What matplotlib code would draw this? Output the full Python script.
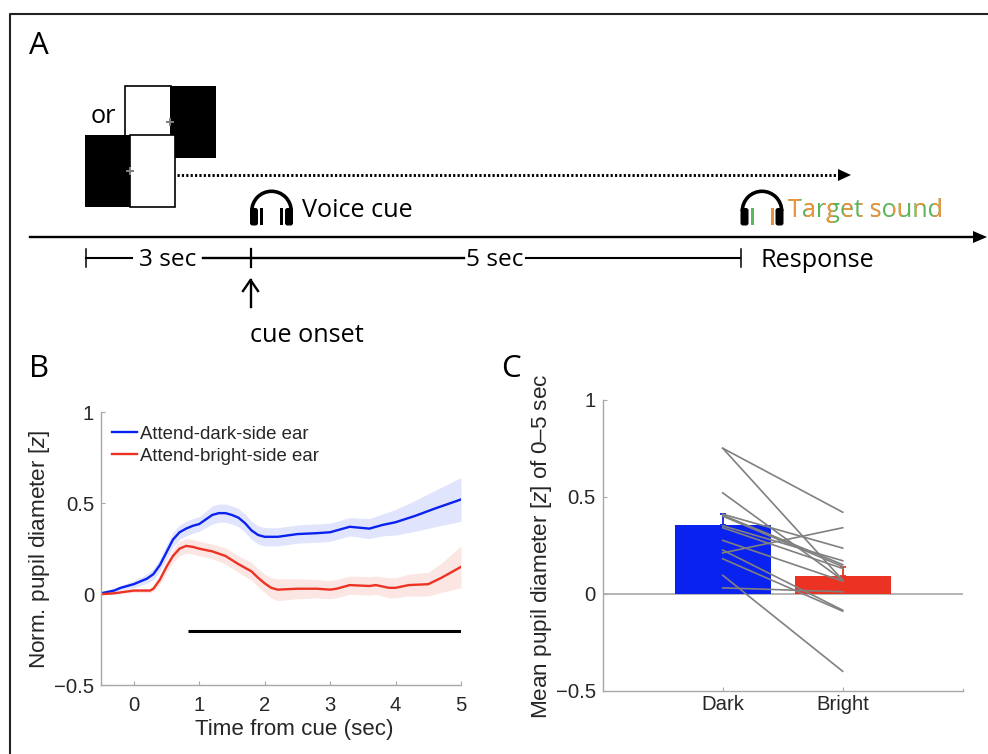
import numpy as np
import matplotlib
matplotlib.use("Agg")
import matplotlib.pyplot as plt
from matplotlib.patches import Rectangle, Wedge, FancyBboxPatch, Polygon
from matplotlib.transforms import Bbox

W, H = 988, 754

# Panel B data
t_blue = [-0.5,-0.3,-0.2,0,0.2,0.3,0.4,0.5,0.6,0.7,0.8,0.9,1.0,1.1,1.2,1.3,1.4,1.5,1.6,1.7,1.8,1.9,2.0,2.2,2.5,2.8,3.0,3.2,3.3,3.6,3.8,4.0,4.3,4.6,5.0]
y_blue = [0.005,0.02,0.035,0.055,0.085,0.11,0.16,0.23,0.30,0.34,0.36,0.375,0.385,0.41,0.435,0.445,0.445,0.435,0.42,0.39,0.35,0.325,0.315,0.315,0.33,0.335,0.34,0.36,0.37,0.36,0.38,0.395,0.43,0.47,0.52]
e_blue = [0.003,0.008,0.012,0.02,0.025,0.03,0.035,0.04,0.04,0.04,0.04,0.04,0.04,0.045,0.05,0.05,0.05,0.05,0.05,0.05,0.05,0.05,0.05,0.05,0.05,0.05,0.05,0.05,0.05,0.055,0.06,0.07,0.085,0.1,0.12]
t_red = [-0.5,-0.3,0,0.25,0.3,0.4,0.5,0.6,0.7,0.8,0.9,1.0,1.2,1.4,1.6,1.8,1.9,2.0,2.1,2.2,2.5,2.8,3.0,3.1,3.3,3.6,3.7,3.9,4.0,4.2,4.5,4.7,5.0]
y_red = [0.0,0.005,0.02,0.02,0.03,0.08,0.15,0.21,0.25,0.265,0.26,0.25,0.235,0.21,0.165,0.125,0.09,0.06,0.035,0.025,0.03,0.03,0.025,0.03,0.05,0.045,0.05,0.035,0.035,0.05,0.055,0.09,0.15]
e_red = [0.002,0.004,0.01,0.012,0.015,0.025,0.03,0.035,0.04,0.04,0.04,0.04,0.04,0.045,0.045,0.05,0.05,0.05,0.055,0.06,0.055,0.05,0.05,0.05,0.05,0.05,0.05,0.055,0.055,0.06,0.065,0.08,0.115]
sig_start, sig_end, sig_y = 0.825, 5.0, -0.2
b_xticks = [0,1,2,3,4,5]
yticks = [-0.5,0,0.5,1]
ytick_labels = ["\u22120.5","0","0.5","1"]

# Panel C data
conditions = ["Dark","Bright"]
bar_means = [0.355,0.09]
bar_errs = [0.055,0.05]
dark_subj = [0.75,0.75,0.52,0.41,0.405,0.40,0.35,0.34,0.275,0.225,0.21,0.18,0.095,0.03]
bright_subj = [0.42,0.07,0.07,0.235,0.15,0.14,0.17,0.13,0.065,-0.085,0.34,-0.09,-0.40,0.01]

BLUE = "#0a22f0"; RED = "#ec3323"
AX = "#a8a8a8"; TXT = "#262626"
SANS = "Liberation Sans"; SCH = "Open Sans"
plt.rcParams["mathtext.fontset"] = "custom"
plt.rcParams["mathtext.rm"] = SANS
plt.rcParams["mathtext.it"] = SANS + ":italic"

fig = plt.figure(figsize=(W/100, H/100), dpi=100, facecolor="white")

def axpx(l, t, r, b):
    return fig.add_axes([l/W, 1-b/H, (r-l)/W, (b-t)/H])

# Schematic layer in pixel coordinates
sc = fig.add_axes([0,0,1,1]); sc.set_xlim(0,W); sc.set_ylim(H,0); sc.axis("off")
sc.plot([10,10,W+2],[H+2,14,14],color="#222222",lw=1.5,solid_capstyle="butt",clip_on=False)

def label(x,y,s,size=18.2,color="black",**k):
    return sc.text(x,y,s,fontsize=size,family=SCH,color=color,va="baseline",**k)

label(29,54,"A",size=22.5); label(29,377,"B",size=22.5); label(501,377,"C",size=22.5)
label(91,123,"or")

# stimuli
sc.add_patch(Rectangle((125,86),45.5,72,fc="white",ec="black",lw=1.2))
sc.add_patch(Rectangle((170,85.5),45.5,72.5,fc="black",ec="black",lw=0))
sc.add_patch(Rectangle((85,134.5),45,72.5,fc="black",ec="black",lw=0))
sc.add_patch(Rectangle((130,134.5),45,72,fc="white",ec="black",lw=1.2))
sc.plot([170,130],[121.5,170.5],ls="none",marker="P",ms=6,color="#808080",mew=0)

# dotted arrow
sc.plot([177,838],[175,175],color="black",lw=2.1,ls=(0,(0.75,0.75)))
sc.add_patch(Polygon([[838,169],[851,175],[838,181]],fc="black",ec="none"))

# main timeline
sc.plot([30,972],[237,237],color="black",lw=1.7)
sc.add_patch(Polygon([[973,231],[987,237],[973,243]],fc="black",ec="none"))

# intervals
sc.plot([85.5,85.5],[249,267],color="black",lw=1.1)
sc.plot([85.5,132],[258,258],color="black",lw=1.5)
sc.plot([203,464],[258,258],color="black",lw=1.7)
sc.plot([526,740],[258,258],color="black",lw=1.5)
sc.plot([250.5,250.5],[249,267],color="black",lw=1.6)
sc.plot([740.5,740.5],[249,267],color="black",lw=1.1)
label(139,266,"3 sec",size=17.6); label(466,266,"5 sec",size=17.6); label(760,267,"Response")
# cue arrow
sc.plot([250.5,250.5],[280,307],color="black",lw=1.7)
sc.plot([243,250.5,258],[291,280,291],color="black",lw=1.7)
label(250,342,"cue onset")
label(302,216.7,"Voice cue")

def headphones(cx, c1="black", c2="black"):
    sc.add_patch(Wedge((cx,211),21.5,180,360,width=3.6,fc="black",ec="none"))
    sc.add_patch(FancyBboxPatch((cx-21.5,208),8,17.5,boxstyle="round,pad=0,rounding_size=2.5",fc="black",ec="none"))
    sc.add_patch(FancyBboxPatch((cx+13.5,208),8,17.5,boxstyle="round,pad=0,rounding_size=2.5",fc="black",ec="none"))
    sc.add_patch(Rectangle((cx-11.5,207.5),3,17.5,fc=c1,ec="none"))
    sc.add_patch(Rectangle((cx+8.5,207.5),3,17.5,fc=c2,ec="none"))
headphones(271.5, "black","black")
headphones(762, "#5cb85c","#ee8f3a")

# Multi-coloured "Target sound": green text with orange vertical stripes
label(788,216.7,"Target sound",color="#5cb35a")
stripes = [(788,799),(806,814),(824,833),(844,851),(859,863),(871,880),(893,902),(915,923),(933,942)]
for a,b in stripes:
    s = label(788,216.7,"Target sound",color="#ee933f")
    s.set_clip_box(Bbox([[a,H-230],[b,H-190]]))
    s.set_clip_on(True)

# Panel B
axb = axpx(101,412,461,685.3)
axb.patch.set_alpha(0)
axb.set_xlim(-0.5,5); axb.set_ylim(-0.5,1)
for t,y,e,c,lab in [(t_blue,y_blue,e_blue,BLUE,"Attend-dark-side ear"),(t_red,y_red,e_red,RED,"Attend-bright-side ear")]:
    t,y,e = map(np.array,(t,y,e))
    axb.fill_between(t,y-e,y+e,color=c,alpha=0.12,lw=0)
    axb.plot(t,y,color=c,lw=1.7,label=lab)
axb.plot([sig_start,sig_end],[sig_y,sig_y],color="black",lw=2.2,solid_capstyle="butt")
axb.set_xticks(b_xticks)
axb.set_yticks(yticks); axb.set_yticklabels(ytick_labels)
axb.text((294-101)/360,(685.3-730)/273.3,"Time from cue (sec)",transform=axb.transAxes,
         va="center",ha="center",fontsize=16.1,family=SANS,color=TXT)
axb.text(-0.172,0.499,"Norm. pupil diameter [$\\mathit{z}$]",transform=axb.transAxes,rotation=90,
         va="center",ha="center",fontsize=16.2,family=SANS,color=TXT)
leg = axb.legend(loc="upper left",bbox_to_anchor=(0.03,0.95),frameon=False,prop={"family":SANS,"size":13.4},
                 handlelength=1.34,handletextpad=0.16,labelspacing=0.28,borderpad=0,borderaxespad=0,labelcolor=TXT)

# Panel C
axc = axpx(602.7,399.7,962.7,690.7)
axc.patch.set_alpha(0)
axc.set_xlim(0,3); axc.set_ylim(-0.5,1)
axc.bar([1,2],bar_means,width=0.8,color=[BLUE,RED],zorder=2)
axc.axhline(0,color=AX,lw=1.2,zorder=1)
for x,m,e,c in zip([1,2],bar_means,bar_errs,[BLUE,RED]):
    axc.errorbar([x],[m],yerr=[[0],[e]],color=c,capsize=2.5,lw=1.3,capthick=1.3,zorder=3)
for d,b in zip(dark_subj,bright_subj):
    axc.plot([1,2],[d,b],color="#808080",lw=1.2,zorder=4)
axc.set_xticks([1,2]); axc.set_xticklabels(conditions)
axc.set_yticks(yticks); axc.set_yticklabels(ytick_labels)
axc.text(-0.171,0.497,"Mean pupil diameter [$\\mathit{z}$] of 0\u20135 sec",transform=axc.transAxes,rotation=90,
         va="center",ha="center",fontsize=16.2,family=SANS,color=TXT)

for ax in (axb,axc):
    for s in ["top","right"]:
        ax.spines[s].set_visible(False)
    for s in ["left","bottom"]:
        ax.spines[s].set_color(AX); ax.spines[s].set_linewidth(1.0)
    ax.tick_params(axis="both",direction="in",length=3,width=0.8,color=AX,pad=5,labelcolor=TXT)
    for lb in ax.get_xticklabels()+ax.get_yticklabels():
        lb.set_family(SANS); lb.set_fontsize(14.6)
axb.tick_params(axis="x",pad=8)
axc.tick_params(axis="x",pad=3)
# closing tick at the right end of panel C's axis
axc.plot([3,3],[-0.5,-0.49],color=AX,lw=0.8,clip_on=False)

fig.savefig("out.png",dpi=100,facecolor="white")
